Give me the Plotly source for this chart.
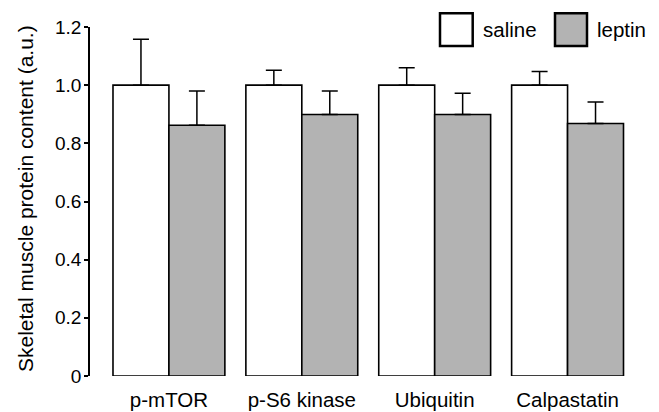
import plotly.graph_objects as go

categories = ["p-mTOR", "p-S6 kinase", "Ubiquitin", "Calpastatin"]
saline = [1.00, 1.00, 1.00, 1.00]
saline_err = [0.158, 0.051, 0.060, 0.047]
leptin = [0.862, 0.899, 0.899, 0.868]
leptin_err = [0.118, 0.081, 0.073, 0.074]
ytick_vals = [0, 0.2, 0.4, 0.6, 0.8, 1.0, 1.2]
ytick_text = ["0", "0.2", "0.4", "0.6", "0.8", "1.0", "1.2"]
ytitle = "Skeletal muscle protein content (a.u.)"
series_names = ["saline", "leptin"]

FONT = "Liberation Sans, Arial, Helvetica, sans-serif"
W, H = 659, 412
ML, MR, MT, MB = 90, 25, 27, 36
PW, PH = W - ML - MR, H - MT - MB

def px(x):
    return (x - ML) / PW

def py(y):
    return (H - MB - y) / PH

fig = go.Figure()
fills = ["white", "#b3b3b3"]
for name, vals, errs, fill in [(series_names[0], saline, saline_err, fills[0]),
                               (series_names[1], leptin, leptin_err, fills[1])]:
    fig.add_trace(go.Bar(
        x=categories, y=vals, name=name, showlegend=False,
        marker=dict(color=fill, line=dict(color="black", width=1.6)),
        error_y=dict(type="data", array=errs, arrayminus=[0] * len(errs),
                     symmetric=False, color="black", thickness=1.5, width=8),
    ))

fig.update_layout(
    width=W, height=H,
    margin=dict(l=ML, r=MR, t=MT, b=MB, pad=0, autoexpand=False),
    paper_bgcolor="white", plot_bgcolor="white",
    barmode="group", bargap=0.158, bargroupgap=0,
    font=dict(family=FONT, color="black", size=18),
    xaxis=dict(range=[-0.594, 3.5], showline=False, ticks="", showgrid=False,
               zeroline=False, tickfont=dict(size=20.5), ticklabelstandoff=9,
               automargin=False),
    yaxis=dict(range=[0, 1.2], tickvals=ytick_vals, ticktext=ytick_text,
               showline=True, linecolor="black", linewidth=1.5,
               ticks="outside", ticklen=4, tickwidth=1.5, tickcolor="black",
               showgrid=False, zeroline=False, tickfont=dict(size=19),
               ticklabelstandoff=-1, automargin=False),
)

# y-axis title
fig.add_annotation(text=ytitle, xref="paper", yref="paper", x=px(25), y=py(199),
                   xanchor="center", yanchor="middle", textangle=-90,
                   showarrow=False, font=dict(size=21))

# legend (drawn manually for large swatches)
legend_items = [(440, 472.7, 481, fills[0], series_names[0]),
                (555, 587, 595, fills[1], series_names[1])]
for x0, x1, tx, fill, name in legend_items:
    fig.add_shape(type="rect", xref="paper", yref="paper",
                  x0=px(x0), x1=px(x1), y0=py(46), y1=py(13.3),
                  fillcolor=fill, line=dict(color="black", width=2.5))
    fig.add_annotation(text=name, xref="paper", yref="paper", x=px(tx), y=py(29.7),
                       xanchor="left", yanchor="middle", showarrow=False,
                       font=dict(size=20.5))

fig.write_html("out.html")
